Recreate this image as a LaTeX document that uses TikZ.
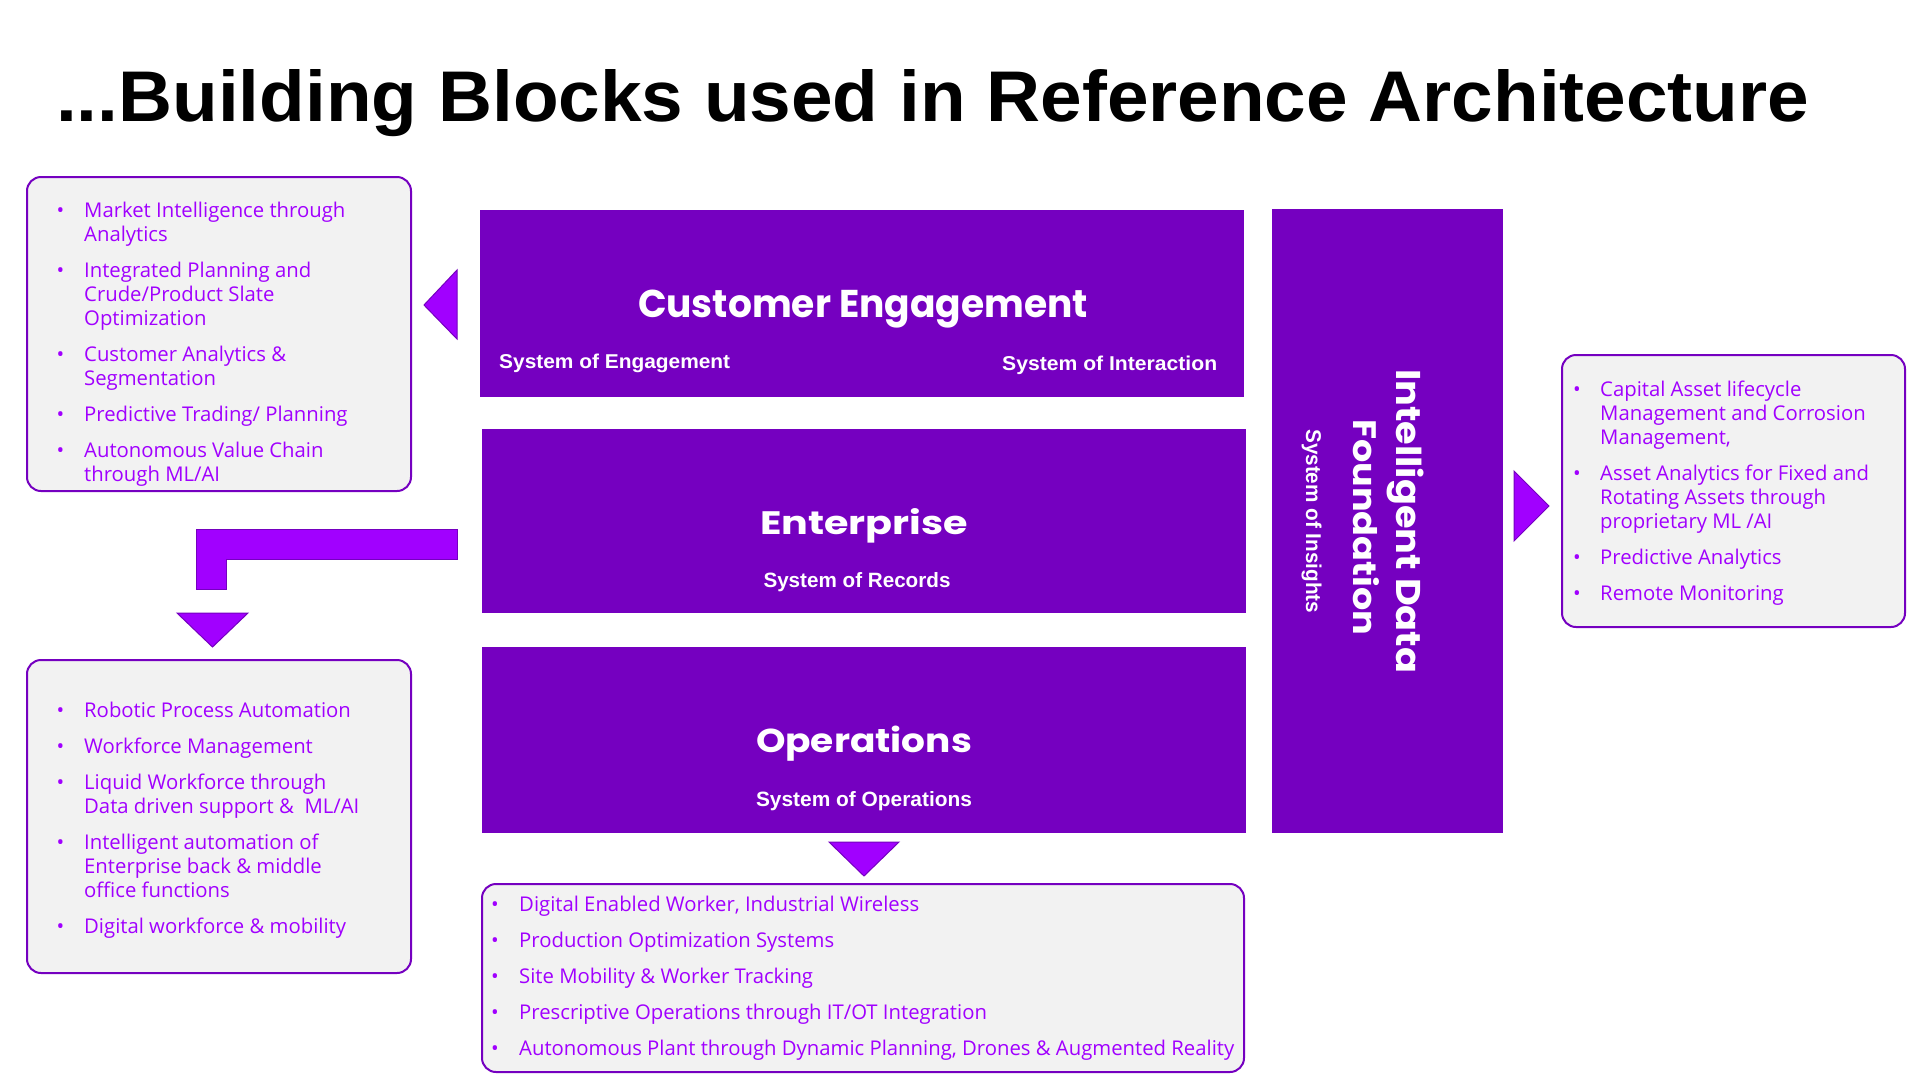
\documentclass[tikz,border=0pt]{standalone}
\usepackage{fontspec}
\setmainfont{Open Sans}
\newfontfamily\titlefont{Liberation Sans}
\newfontfamily\headfont{Poppins}
\newfontfamily\labelfont{Liberation Sans}
\definecolor{deeppurple}{HTML}{7500C0}
\definecolor{brightpurple}{HTML}{A100FF}
\definecolor{panelgray}{HTML}{F2F2F2}
% scale a piece of text to an exact width and height (in pt)
\newcommand{\fitbox}[3]{\resizebox{#1pt}{#2pt}{#3}}

\begin{document}
\begin{tikzpicture}[x=1pt,y=-1pt,
  block/.style={fill=deeppurple, draw=none, inner sep=0pt, rectangle},
  panel/.style={fill=panelgray, draw=deeppurple, line width=2pt, rounded corners=14pt, inner sep=0pt, rectangle},
  pointer/.style={fill=brightpurple, draw=deeppurple, line width=1pt, line join=miter},
  % multi-line items are anchored on the baseline of their last line
  item/.style={anchor=base west, inner sep=0pt, text=brightpurple, font=\fontsize{20.3}{24}\selectfont, align=left},
  dot/.style={anchor=base, inner sep=0pt, text=brightpurple, font=\fontsize{20.3}{24}\selectfont},
  head/.style={anchor=base, inner sep=0pt, text=white}]

\fill[white] (0,0) rectangle (1920,1080);
\useasboundingbox (0,0) rectangle (1920,1080);

% title
\node[anchor=base west, inner sep=0pt] (title) at (56,121)
  {\fitbox{1753}{52}{\titlefont\bfseries ...Building Blocks used in Reference Architecture}};

% central layer blocks
\node[block, minimum width=764, minimum height=187] (ce)  at (862,303.5) {};
\node[block, minimum width=764, minimum height=184] (ent) at (864,521) {};
\node[block, minimum width=764, minimum height=186] (ops) at (864,740) {};
\node[block, minimum width=231, minimum height=624] (idf) at (1387.5,521) {};

\node[head] (cetitle) at (863,317) {\fitbox{450}{27.5}{\headfont\bfseries Customer Engagement}};
\node[head, anchor=base west] (cesubl) at (499,368) {\fitbox{231}{14.5}{\labelfont\bfseries System of Engagement}};
\node[head, anchor=base west] (cesubr) at (1002,370) {\fitbox{215}{14.5}{\labelfont\bfseries System of Interaction}};

\node[head] (enttitle) at (864,534) {\fitbox{208}{26}{\headfont\bfseries Enterprise}};
\node[head] (entsub) at (857,587) {\fitbox{187}{15}{\labelfont\bfseries System of Records}};

\node[head] (opstitle) at (864,752) {\fitbox{216}{26.5}{\headfont\bfseries Operations}};
\node[head] (opssub) at (864,806) {\fitbox{216}{15}{\labelfont\bfseries System of Operations}};

\node[head, anchor=base west, rotate=-90] (idftitlea) at (1396,369) {\fitbox{304}{27.5}{\headfont\bfseries Intelligent Data}};
\node[head, anchor=base west, rotate=-90] (idftitleb) at (1353,419) {\fitbox{216}{26}{\headfont\bfseries Foundation}};
\node[head, anchor=base west, rotate=-90] (idfsub) at (1306,429) {\fitbox{184}{15.5}{\labelfont\bfseries System of Insights}};

% capability panels
\node[panel, minimum width=384, minimum height=314] (mkt) at (219,334) {};
\node[panel, minimum width=384, minimum height=313] (wrk) at (219,816.5) {};
\node[panel, minimum width=762, minimum height=188] (plant) at (863,978) {};
\node[panel, minimum width=343, minimum height=272] (asset) at (1733.5,491) {};

% pointers from the layers to their panels
\path[pointer] (457,270) -- (457,339) -- (424,305) -- cycle;
\path[pointer] (1514,471) -- (1514,541) -- (1549,506) -- cycle;
\path[pointer] (829,842) -- (899,842) -- (864,876) -- cycle;
\path[pointer] (457,529) -- (457,559) -- (226,559) -- (226,589) -- (196,589) -- (196,529) -- cycle;
\path[pointer] (177,613) -- (248,613) -- (212.5,647) -- cycle;

% market panel
\node[dot] (mkd1) at (60.5,217) {•};
\node[item] (mk1) at (84,241) {Market Intelligence through\\Analytics};
\node[dot] (mkd2) at (60.5,277) {•};
\node[item] (mk2) at (84,325) {Integrated Planning and\\Crude/Product Slate\\Optimization};
\node[dot] (mkd3) at (60.5,361) {•};
\node[item] (mk3) at (84,385) {Customer Analytics \&\\Segmentation};
\node[dot] (mkd4) at (60.5,421) {•};
\node[item] (mk4) at (84,421) {Predictive Trading/ Planning};
\node[dot] (mkd5) at (60.5,457) {•};
\node[item] (mk5) at (84,481) {Autonomous Value Chain\\through ML/AI};

% workforce panel
\node[dot] (wkd1) at (60.5,717) {•};
\node[item] (wk1) at (84,717) {Robotic Process Automation};
\node[dot] (wkd2) at (60.5,753) {•};
\node[item] (wk2) at (84,753) {Workforce Management};
\node[dot] (wkd3) at (60.5,789) {•};
\node[item] (wk3) at (84,813) {Liquid Workforce through\\Data driven support \&~ ML/AI};
\node[dot] (wkd4) at (60.5,849) {•};
\node[item] (wk4) at (84,897) {Intelligent automation of\\Enterprise back \& middle\\office functions};
\node[dot] (wkd5) at (60.5,933) {•};
\node[item] (wk5) at (84,933) {Digital workforce \& mobility};

% plant panel
\node[dot] (pld1) at (495,911) {•};
\node[item] (pl1) at (519,911) {Digital Enabled Worker, Industrial Wireless};
\node[dot] (pld2) at (495,947) {•};
\node[item] (pl2) at (519,947) {Production Optimization Systems};
\node[dot] (pld3) at (495,983) {•};
\node[item] (pl3) at (519,983) {Site Mobility \& Worker Tracking};
\node[dot] (pld4) at (495,1019) {•};
\node[item] (pl4) at (519,1019) {Prescriptive Operations through IT/OT Integration};
\node[dot] (pld5) at (495,1055) {•};
\node[item] (pl5) at (519,1055) {Autonomous Plant through Dynamic Planning, Drones \& Augmented Reality};

% asset panel
\node[dot] (asd1) at (1577,396) {•};
\node[item] (as1) at (1600,444) {Capital Asset lifecycle\\Management and Corrosion\\Management,};
\node[dot] (asd2) at (1577,480) {•};
\node[item] (as2) at (1600,528) {Asset Analytics for Fixed and\\Rotating Assets through\\proprietary ML /AI};
\node[dot] (asd3) at (1577,564) {•};
\node[item] (as3) at (1600,564) {Predictive Analytics};
\node[dot] (asd4) at (1577,600) {•};
\node[item] (as4) at (1600,600) {Remote Monitoring};

\end{tikzpicture}
\end{document}
